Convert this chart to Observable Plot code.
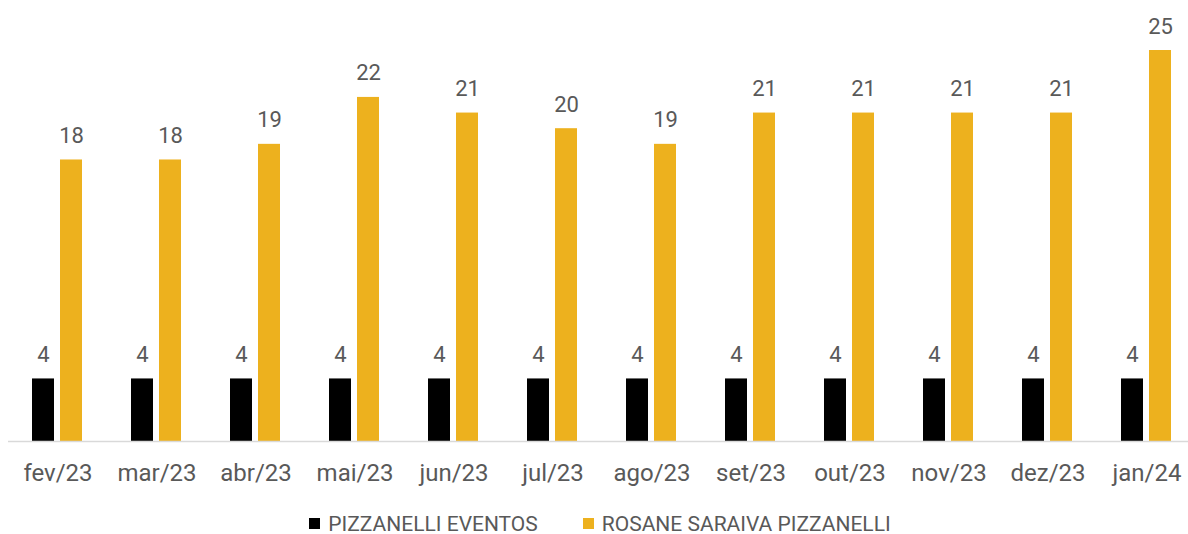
<!DOCTYPE html>
<html><head><meta charset="utf-8">
<script src="https://cdn.jsdelivr.net/npm/d3@7"></script>
<script src="https://cdn.jsdelivr.net/npm/@observablehq/plot@0.6"></script>
<style>
body{margin:0;background:#fff;font-family:Roboto,sans-serif;overflow:hidden;width:1188px;}
#chart svg{display:block;}
#legend{display:flex;justify-content:center;align-items:center;gap:45px;font-size:21px;color:#595959;height:57px;margin-left:12px;}
#legend span.item{display:flex;align-items:center;}
#legend i{display:inline-block;width:11px;height:11px;margin-right:8px;}
</style></head>
<body><div id="chart"></div><div id="legend"></div>
<script>
const months = ["fev/23","mar/23","abr/23","mai/23","jun/23","jul/23","ago/23","set/23","out/23","nov/23","dez/23","jan/24"];
const series = ["PIZZANELLI EVENTOS","ROSANE SARAIVA PIZZANELLI"];
const eventos = [4,4,4,4,4,4,4,4,4,4,4,4];
const rosane = [18,18,19,22,21,20,19,21,21,21,21,25];
const colors = ["#000000","#EDB11E"];

const data = [];
months.forEach((m,i)=>{
  data.push({month:m, series:series[0], value:eventos[i]});
  data.push({month:m, series:series[1], value:rosane[i]});
});

const chart = Plot.plot({
  width: 1188,
  height: 495,
  marginTop: 0,
  marginBottom: 54,
  style:{fontFamily:"Roboto, sans-serif", background:"#fff"},
  fx:{domain:months, range:[8,1196], padding:0, label:null, axis:"bottom", tickSize:0, tickPadding:22, fontSize:24},
  x:{domain:series, paddingInner:0.21, paddingOuter:0.842, axis:null},
  y:{domain:[0,25], range:[441,50], axis:null},
  color:{domain:series, range:colors},
  marks:[
    Plot.barY(data,{fx:"month", x:"series", y:"value", fill:"series"}),
    Plot.text(data,{fx:"month", x:"series", y:"value", text:d=>String(d.value), lineAnchor:"bottom", dy:-17, fontSize:22, fill:"#595959"}),
    Plot.ruleY([0],{stroke:"#d9d9d9", strokeWidth:1.5})
  ]
});
chart.querySelectorAll('g[aria-label="fx-axis tick label"]').forEach(e=>{e.setAttribute("fill","#595959");e.setAttribute("font-size","24");});
document.getElementById("chart").appendChild(chart);

const lg = document.getElementById("legend");
series.forEach((s,i)=>{
  const it = document.createElement("span"); it.className="item";
  const sw = document.createElement("i"); sw.style.background = colors[i];
  it.appendChild(sw); it.appendChild(document.createTextNode(s));
  lg.appendChild(it);
});
</script></body></html>
